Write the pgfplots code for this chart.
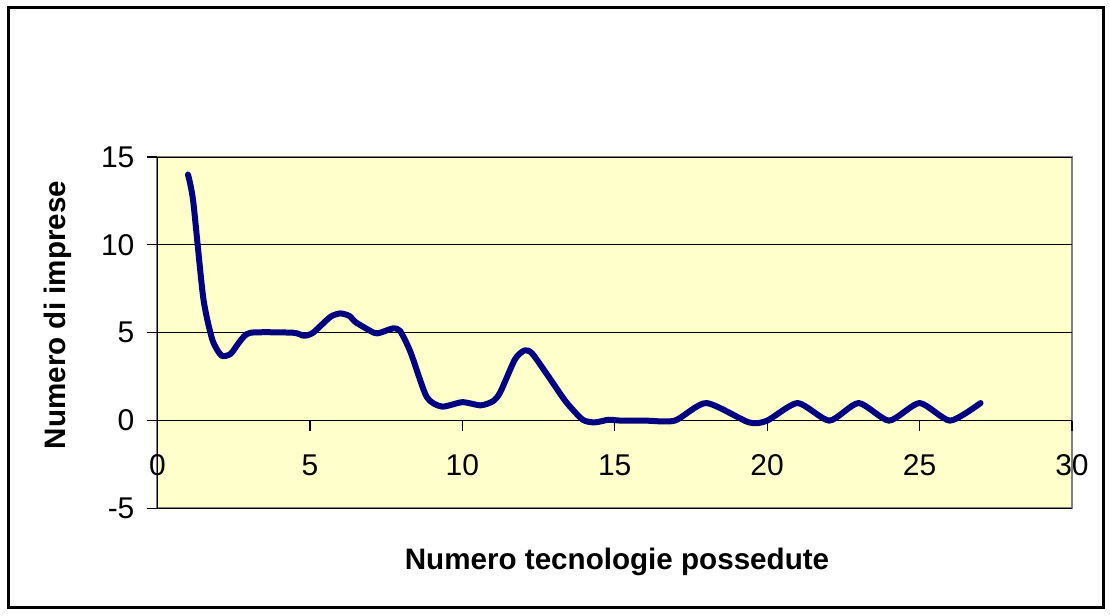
\documentclass[border=0pt]{standalone}
\usepackage{fontspec}
\setmainfont{Liberation Sans}
\usepackage{pgfplots}
\pgfplotsset{compat=1.18}
\definecolor{plotbg}{HTML}{FFFFCC}
\definecolor{curve}{HTML}{000080}
\begin{document}
\begin{tikzpicture}
\useasboundingbox (0,0) rectangle (555pt,308pt);
\draw[black, line width=1.5pt] (4pt,4pt) rectangle (551.5pt,304.25pt);
\begin{axis}[
    at={(78.75pt,53.75pt)}, anchor=south west,
    scale only axis, width=457.25pt, height=175.75pt,
    xmin=0, xmax=30, ymin=-5, ymax=15,
    xtick={0,5,...,30}, ytick={-5,0,5,10,15},
    axis x line*=middle, axis y line*=left,
    hide obscured x ticks=false,
    axis line style={-, black, line width=0.6pt},
    axis background/.style={fill=plotbg, draw=black!50, line width=1pt},
    ymajorgrids, grid style={black, line width=0.5pt},
    tick align=outside, major tick length=5pt,
    tick style={black, line width=0.6pt},
    /pgf/number format/assume math mode=true,
    tick label style={font=\fontsize{15}{18}\selectfont},
    xticklabel style={yshift=-8.5pt},
    yticklabel style={xshift=-3pt},
    xlabel={Numero tecnologie possedute},
    ylabel={Numero di imprese},
    label style={font=\fontsize{14.8}{18}\selectfont\bfseries},
    xlabel style={at={(rel axis cs:0.5025,-0.152)}, anchor=center},
    ylabel style={at={(rel axis cs:-0.1088,0.5505)}, anchor=center, rotate=0},
    clip=false,
]
\addplot[curve, line width=3pt, smooth, tension=0.4, line join=round, line cap=round] coordinates {
(1,14) (1.17,12.5) (1.5,7) (1.8,4.6) (2.1,3.7) (2.4,3.8) (2.7,4.5) (3.05,5)
(4.45,5) (4.8,4.83) (5.1,5.0) (5.67,5.9) (6.0,6.1) (6.3,5.95) (6.5,5.6)
(7.1,5.0) (7.3,5.0) (7.73,5.25) (7.96,5.1) (8.3,3.9) (8.83,1.35) (9.33,0.8)
(10.0,1.05) (10.6,0.87) (11.0,1.1) (11.24,1.6) (11.73,3.5) (12.05,4.0)
(12.3,3.8) (12.87,2.4) (13.4,1.07) (13.95,0.05) (14.35,-0.1) (14.8,0.05)
(15.2,0) (16,0) (16.97,0) (18,1) (19.4,-0.1) (20,0) (21,1) (22.04,0) (23,1)
(24,0) (25,1) (26,0) (27,1)
};
\end{axis}
\end{tikzpicture}
\end{document}
